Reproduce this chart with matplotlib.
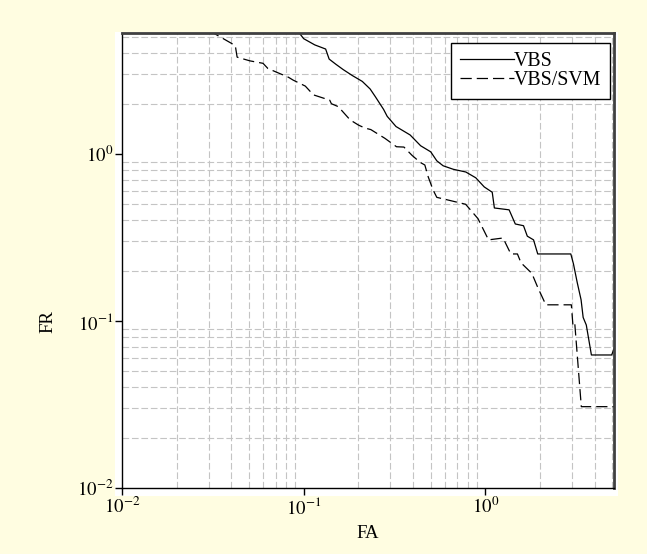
import numpy as np
import matplotlib
matplotlib.use('Agg')
import matplotlib.pyplot as plt
from matplotlib.patches import Rectangle
from matplotlib.ticker import LogLocator, NullFormatter

plt.rcParams['font.family'] = ['Liberation Serif', 'DejaVu Serif']
plt.rcParams['mathtext.fontset'] = 'stix'
plt.rcParams['font.size'] = 12

PAGE = '#fffde1'
GRID = '#c4c4c4'

# VBS curve (solid)
vbs_fa = [0.092, 0.100, 0.115, 0.132, 0.138, 0.150, 0.165, 0.185, 0.210, 0.232,
          0.248, 0.275, 0.288, 0.322, 0.385, 0.440, 0.500, 0.540, 0.585, 0.665,
          0.780, 0.885, 0.985, 1.09, 1.12, 1.35, 1.46, 1.62, 1.70, 1.84,
          1.94, 2.95, 3.05, 3.20, 3.36, 3.45, 3.59, 3.83, 4.95, 5.1]
vbs_fr = [5.5, 4.9, 4.5, 4.25, 3.70, 3.45, 3.20, 2.95, 2.72, 2.45,
          2.20, 1.85, 1.68, 1.46, 1.30, 1.12, 1.03, 0.91, 0.85, 0.81,
          0.78, 0.72, 0.635, 0.59, 0.475, 0.463, 0.381, 0.372, 0.322, 0.306,
          0.252, 0.252, 0.22, 0.17, 0.134, 0.105, 0.0946, 0.0626, 0.0626, 0.068]

# VBS/SVM curve (dashed)
svm_fa = [0.030, 0.042, 0.043, 0.0506, 0.0597, 0.0635, 0.0824, 0.0874, 0.102, 0.113,
          0.139, 0.142, 0.155, 0.180, 0.200, 0.217, 0.234, 0.280, 0.324, 0.356,
          0.395, 0.438, 0.464, 0.484, 0.515, 0.540, 0.623, 0.778, 0.910, 1.04,
          1.25, 1.38, 1.50, 1.57, 1.80, 1.94, 2.15, 2.97, 3.03, 3.10,
          3.37, 3.54, 5.1]
svm_fr = [5.5, 4.46, 3.80, 3.61, 3.49, 3.25, 2.88, 2.77, 2.55, 2.26,
          2.10, 2.00, 1.92, 1.60, 1.49, 1.43, 1.40, 1.24, 1.105, 1.10,
          0.98, 0.89, 0.859, 0.731, 0.609, 0.55, 0.530, 0.50, 0.41, 0.306,
          0.314, 0.252, 0.252, 0.223, 0.193, 0.159, 0.125, 0.125, 0.0946, 0.0976,
          0.0307, 0.0307, 0.0307]

fig = plt.figure(figsize=(6.47, 5.54), dpi=100)
fig.patch.set_facecolor(PAGE)

# white figure panel behind the axes
fig.patches.append(Rectangle((0.1777, 0.1047), 0.7773, 0.8375, transform=fig.transFigure,
                             facecolor='white', edgecolor='none', zorder=-5))

ax = fig.add_axes([0.1886, 0.1191, 0.7604, 0.8213])
ax.set_zorder(2)
ax.set_facecolor('white')
ax.set_xscale('log')
ax.set_yscale('log')
ax.set_xlim(0.01, 5.1)
ax.set_ylim(0.01, 5.3)

ax.plot(vbs_fa, vbs_fr, color='black', lw=0.9, label='VBS')
ax.plot(svm_fa, svm_fr, color='black', lw=0.9, linestyle=(0, (9, 4)), label='VBS/SVM')

ax.xaxis.set_minor_locator(LogLocator(base=10, subs=np.arange(2, 10)))
ax.yaxis.set_minor_locator(LogLocator(base=10, subs=np.arange(2, 10)))
ax.xaxis.set_minor_formatter(NullFormatter())
ax.yaxis.set_minor_formatter(NullFormatter())
ax.set_xticks([0.01, 0.1, 1])
ax.set_yticks([0.01, 0.1, 1])
ax.set_xticklabels([r'$10^{-2}$', r'$10^{-1}$', r'$10^{0}$'])
ax.set_yticklabels([r'$10^{-2}$', r'$10^{-1}$', r'$10^{0}$'])

ax.grid(False, which='major')
ax.grid(True, which='minor', color=GRID, linestyle=(0, (6, 2.5)), lw=0.8)
ax.set_axisbelow(True)
ax.tick_params(which='major', direction='out', length=5, width=1, pad=1.5, labelsize=13.5)
ax.tick_params(which='minor', length=0)

for side in ['left', 'bottom']:
    ax.spines[side].set_color('black')
    ax.spines[side].set_linewidth(1.0)
for side in ['top', 'right']:
    ax.spines[side].set_color('#404040')
    ax.spines[side].set_linewidth(2.0)

ax.set_xlabel('FA', fontsize=13.5)
ax.set_ylabel('FR', fontsize=13.5)
ax.xaxis.set_label_coords(0.5, -0.101)
ax.yaxis.set_label_coords(-0.151, 0.365)
ax.xaxis.label.set_va('center')
ax.yaxis.label.set_va('center')

leg = ax.legend(loc='upper right', bbox_to_anchor=(0.992, 0.977), borderaxespad=0,
                fontsize=14.3, handlelength=2.7, handletextpad=0.0, labelspacing=0.0,
                borderpad=0.45, fancybox=False, framealpha=1, edgecolor='black')
leg.get_frame().set_linewidth(1.0)

fig.savefig('out.png', dpi=100, facecolor=PAGE)
